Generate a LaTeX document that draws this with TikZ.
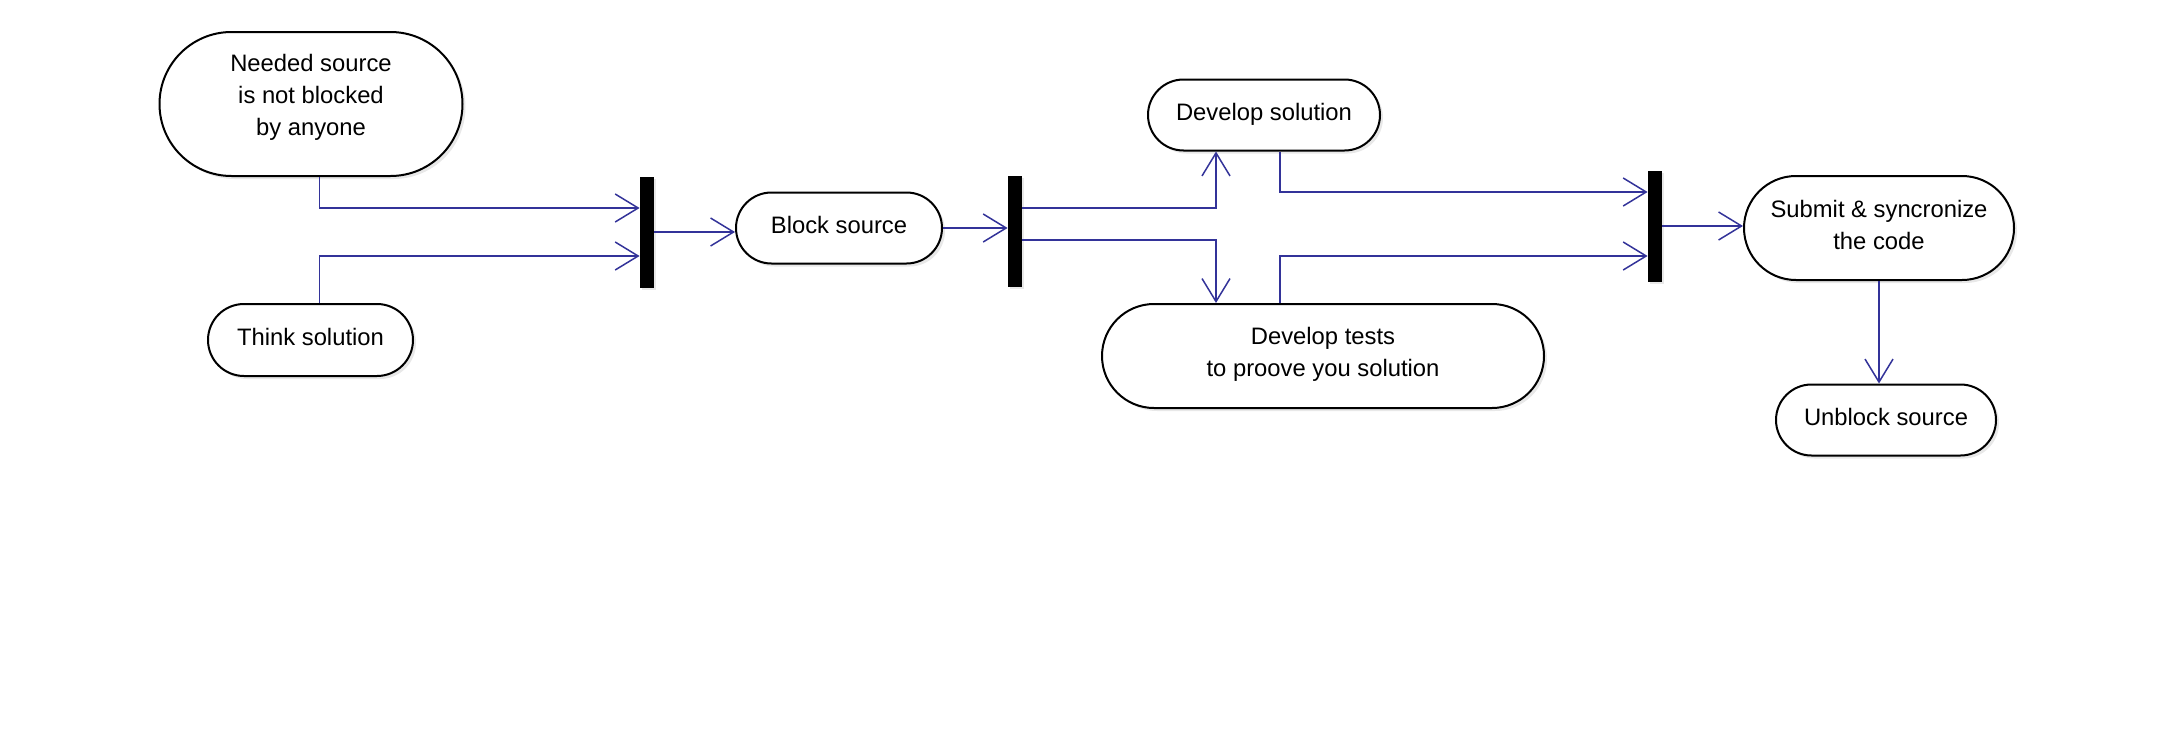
\documentclass[tikz,border=0pt]{standalone}
\usepackage{fontspec}
\setmainfont{Liberation Sans}
\usetikzlibrary{arrows.meta,calc,shapes.misc,shadows}
\definecolor{flowblue}{RGB}{51,51,153}

\begin{document}
\begin{tikzpicture}[x=0.5pt, y=-0.5pt,
  every node/.style={font=\fontsize{11.9}{16}\selectfont},
  act/.style={rounded rectangle, draw, line width=1pt, fill=white, align=center,
    inner sep=0pt, text depth=3.5pt,
    drop shadow={shadow xshift=1.5pt, shadow yshift=-1.5pt, fill=black!18}},
  syncbar/.style={fill=black, inner sep=0pt, minimum width=7pt, minimum height=55.5pt,
    drop shadow={shadow xshift=1.2pt, shadow yshift=-1.2pt, fill=black!18}},
  flow/.style={draw=flowblue, line width=0.75pt, -{Straight Barb[length=11.5pt, width=14pt]}}]
\useasboundingbox (0,0) rectangle (2174,744);
\node[act, minimum width=151.5pt, minimum height=72pt, text depth=9.5pt] (need) at (311,104)
  {Needed source\\is not blocked\\by anyone};
\node[act, minimum width=102.5pt, minimum height=36pt] (think) at (310.5,340) {Think solution};
\node[act, minimum width=103pt, minimum height=35.5pt] (block) at (839,228) {Block source};
\node[act, minimum width=116pt, minimum height=35.5pt] (devsol) at (1264,115) {Develop solution};
\node[act, minimum width=221pt, minimum height=52pt, text depth=4.5pt] (devtest) at (1323,356)
  {Develop tests\\to proove you solution};
\node[act, minimum width=135pt, minimum height=52pt] (submit) at (1879,228)
  {Submit \& syncronize\\the code};
\node[act, minimum width=110pt, minimum height=35.5pt] (unblock) at (1886,420) {Unblock source};
\node[syncbar] (bar1) at (647,232) {};
\node[syncbar] (bar2) at (1015,231) {};
\node[syncbar] (bar3) at (1655,226) {};
% fork / join connectors
\draw[flow] ([xshift=4.3pt]need.south) |- ([yshift=12pt]bar1.west);
\draw[flow] ([xshift=4.5pt]think.north) |- ([yshift=-12pt]bar1.west);
\draw[flow] (bar1.east) -- (bar1.east -| block.west);
\draw[flow] (block.east) -- (block.east -| bar2.west);
\draw[flow] ([yshift=11.5pt]bar2.east) -| ([xshift=-24pt]devsol.south);
\draw[flow] ([yshift=-4.5pt]bar2.east) -| ([xshift=-53.5pt]devtest.north);
\draw[flow] ([xshift=8pt]devsol.south) |- ([yshift=17pt]bar3.west);
\draw[flow] ([xshift=-21.5pt]devtest.north) |- ([yshift=-15pt]bar3.west);
\draw[flow] (bar3.east) -- (bar3.east -| submit.west);
\draw[flow] (submit.south) -- (submit.south |- unblock.north);
\end{tikzpicture}
\end{document}
